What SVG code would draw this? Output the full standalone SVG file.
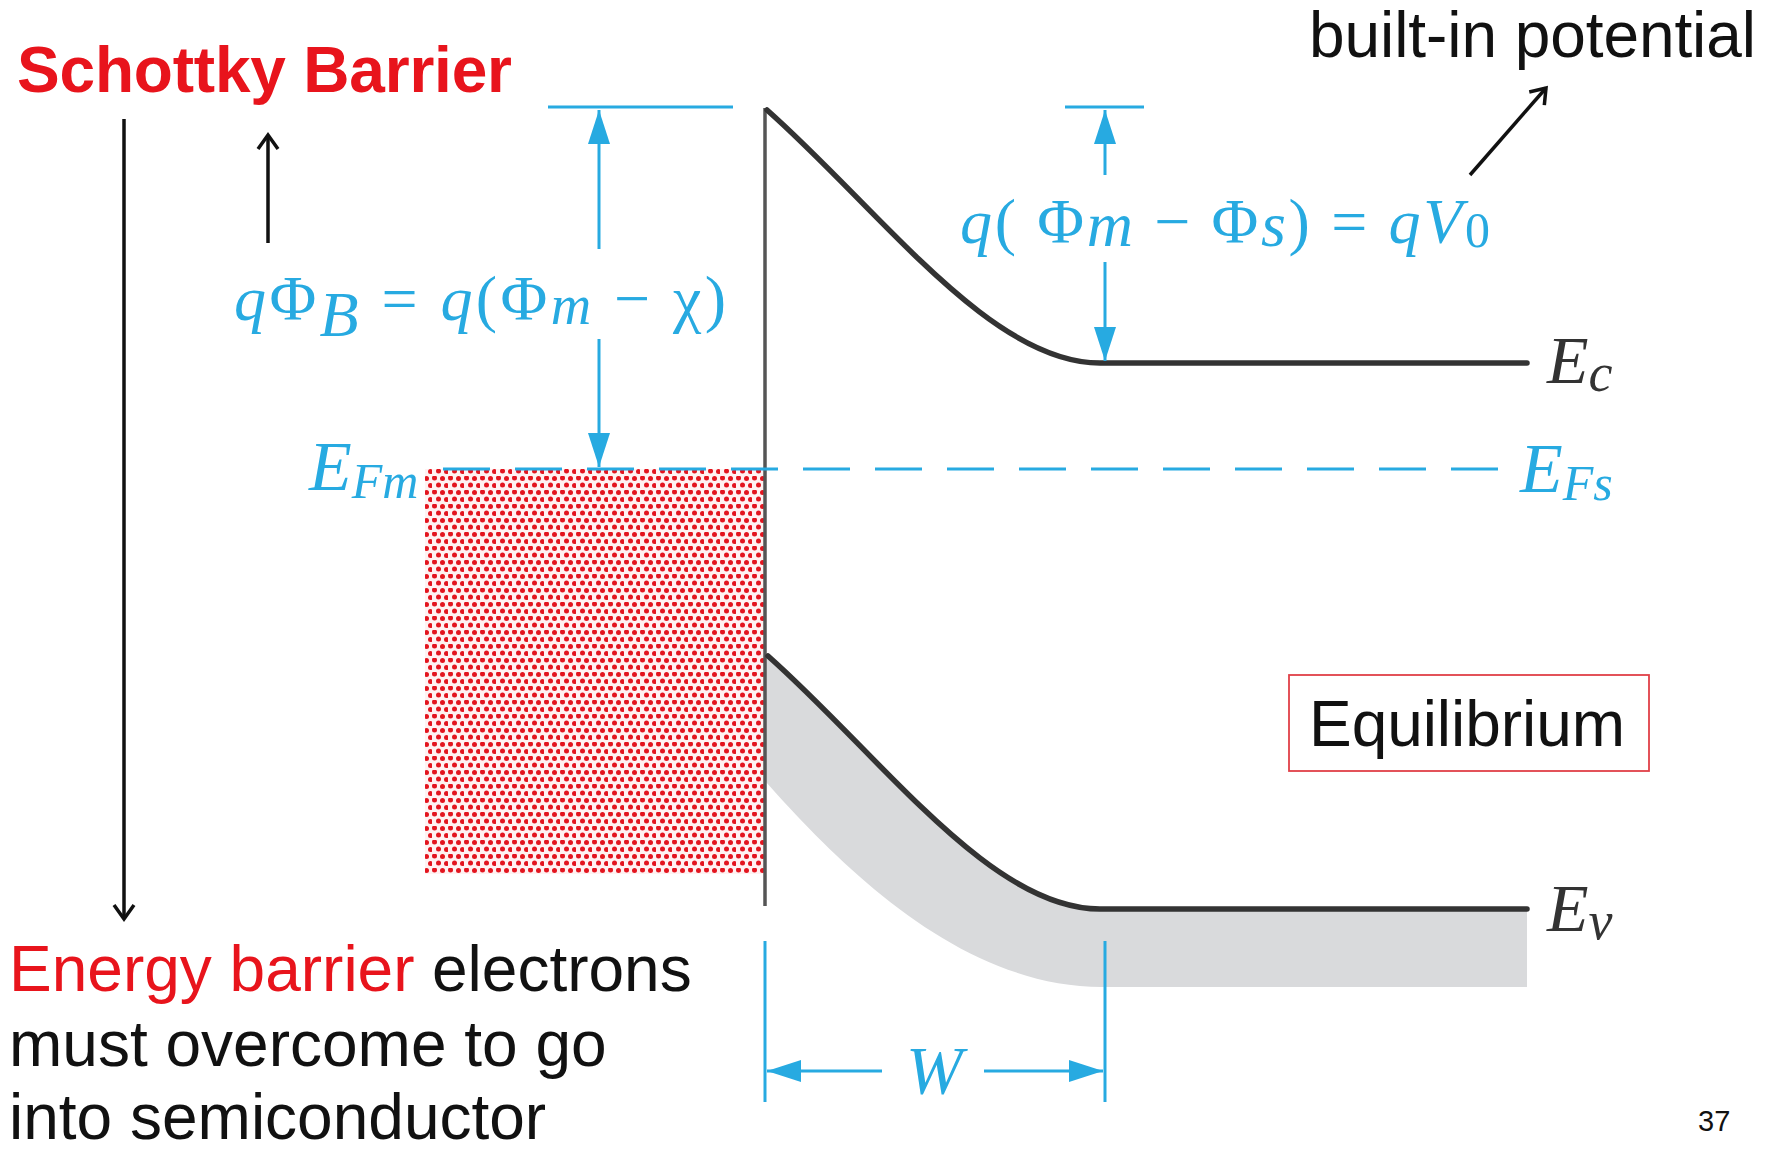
<svg xmlns="http://www.w3.org/2000/svg" width="1773" height="1154" viewBox="0 0 1773 1154">
<style>
.sans{font-family:"Liberation Sans",Arial,sans-serif;font-size:64px;fill:#111}
.red{fill:#e8141c}
.math{font-family:"Liberation Serif","Times New Roman",serif;font-size:64px;fill:#27aae1}
.lab{font-family:"Liberation Serif","Times New Roman",serif;font-size:68px;fill:#333;font-style:italic}
.it{font-style:italic}
.blue{stroke:#27aae1;stroke-width:3;fill:none}
.blk{stroke:#111;stroke-width:3.5;fill:none}
.band{stroke:#333;stroke-width:5.5;fill:none;stroke-linecap:round}
</style>
<defs>
<marker id="chev" markerUnits="userSpaceOnUse" viewBox="-20 -14 24 28" refX="0" refY="0" markerWidth="24" markerHeight="28" orient="auto">
<path d="M-14,-10 L0,0 L-14,10" fill="none" stroke="#111" stroke-width="3.5"/>
</marker>
<marker id="tri" markerUnits="userSpaceOnUse" viewBox="-36 -13 38 26" refX="0" refY="0" markerWidth="38" markerHeight="26" orient="auto">
<path d="M-34,-11 L0,0 L-34,11 Z" fill="#27aae1"/>
</marker>
<pattern id="dots" patternUnits="userSpaceOnUse" width="16" height="14">
<rect width="16" height="14" fill="#fff2f2"/>
<circle cx="2.5" cy="2" r="2.5" fill="#e3151f"/>
<circle cx="10.5" cy="2.6" r="2.5" fill="#e3151f"/>
<circle cx="6.5" cy="9" r="2.5" fill="#e3151f"/>
<circle cx="14.5" cy="9.6" r="2.5" fill="#e3151f"/>
</pattern>
</defs>
<rect width="1773" height="1154" fill="#fff"/>

<g id="metal">
<rect x="425" y="469" width="339" height="405" fill="url(#dots)"/>
</g>

<g id="valence-band-fill">
<path d="M766,656 C880,756 990,909 1100,909 L1527,909 L1527,987 L1102,987 C960,987 840,865 766,782 Z" fill="#d9dadc"/>
</g>

<g id="interface">
<line x1="765" y1="108" x2="765" y2="906" stroke="#555" stroke-width="3.5"/>
</g>

<g id="Ec">
<path class="band" d="M767,110 C880,210 990,363 1100,363 L1527,363"/>
<text class="lab" x="1547" y="383">E<tspan font-size="54" dy="8">c</tspan></text>
</g>

<g id="Ev">
<path class="band" d="M768,656 C881,756 990,909 1100,909 L1527,909"/>
<text class="lab" x="1547" y="931">E<tspan font-size="54" dy="8">v</tspan></text>
</g>

<g id="fermi">
<line class="blue" x1="443" y1="469" x2="1498" y2="469" stroke-dasharray="47 25"/>
<text class="math it" x="309" y="490" style="font-size:70px">E<tspan style="font-size:50px" dy="8">Fm</tspan></text>
<text class="math it" x="1520" y="492" style="font-size:70px">E<tspan style="font-size:50px" dy="8">Fs</tspan></text>
</g>

<g id="connectors">
<line class="blue" x1="548" y1="107" x2="733" y2="107"/>
<line class="blue" x1="599" y1="249" x2="599" y2="110" marker-end="url(#tri)"/>
<line class="blue" x1="599" y1="339" x2="599" y2="467" marker-end="url(#tri)"/>
<line class="blue" x1="1065" y1="107" x2="1144" y2="107"/>
<line class="blue" x1="1105" y1="175" x2="1105" y2="110" marker-end="url(#tri)"/>
<line class="blue" x1="1105" y1="262" x2="1105" y2="361" marker-end="url(#tri)"/>
<line class="blue" x1="765" y1="941" x2="765" y2="1102"/>
<line class="blue" x1="1105" y1="941" x2="1105" y2="1102"/>
<line class="blue" x1="882" y1="1071" x2="767" y2="1071" marker-end="url(#tri)"/>
<line class="blue" x1="984" y1="1071" x2="1103" y2="1071" marker-end="url(#tri)"/>
<line class="blk" x1="124" y1="119" x2="124" y2="919" marker-end="url(#chev)"/>
<line class="blk" x1="268" y1="243" x2="268" y2="135" marker-end="url(#chev)"/>
<line class="blk" x1="1470" y1="175" x2="1546" y2="88" marker-end="url(#chev)"/>
</g>

<g id="eq-barrier">
<text class="math" x="234" y="320" textLength="492"><tspan class="it">q</tspan>Φ<tspan class="it" dy="16">B</tspan><tspan dy="-16"> = </tspan><tspan class="it">q</tspan>(Φ<tspan class="it" style="font-size:56px" dy="4">m</tspan><tspan dy="-4"> − χ)</tspan></text>
</g>

<g id="eq-builtin">
<text class="math" x="960" y="243" textLength="530"><tspan class="it">q</tspan>( Φ<tspan class="it" dy="3">m</tspan><tspan dy="-3"> − Φ</tspan><tspan class="it" dy="3">s</tspan><tspan dy="-3">) = </tspan><tspan class="it">qV</tspan><tspan style="font-size:50px" dy="4">0</tspan></text>
</g>

<g id="W-label">
<text class="math it" x="906" y="1093" style="font-size:68px">W</text>
</g>

<g id="title">
<text class="sans red" x="17" y="92" font-weight="bold" textLength="495">Schottky Barrier</text>
</g>

<g id="builtin-label">
<text class="sans" x="1309" y="57" textLength="447">built-in potential</text>
</g>

<g id="equilibrium">
<rect x="1289" y="675" width="360" height="96" fill="none" stroke="#e04048" stroke-width="1.8"/>
<text class="sans" x="1309" y="746" textLength="316">Equilibrium</text>
</g>

<g id="caption">
<text class="sans red" x="9" y="991">Energy barrier</text>
<text class="sans" x="432" y="991">electrons</text>
<text class="sans" x="9" y="1066">must overcome to go</text>
<text class="sans" x="9" y="1139">into semiconductor</text>
</g>

<g id="page">
<text class="sans" x="1698" y="1131" style="font-size:29px">37</text>
</g>
</svg>
